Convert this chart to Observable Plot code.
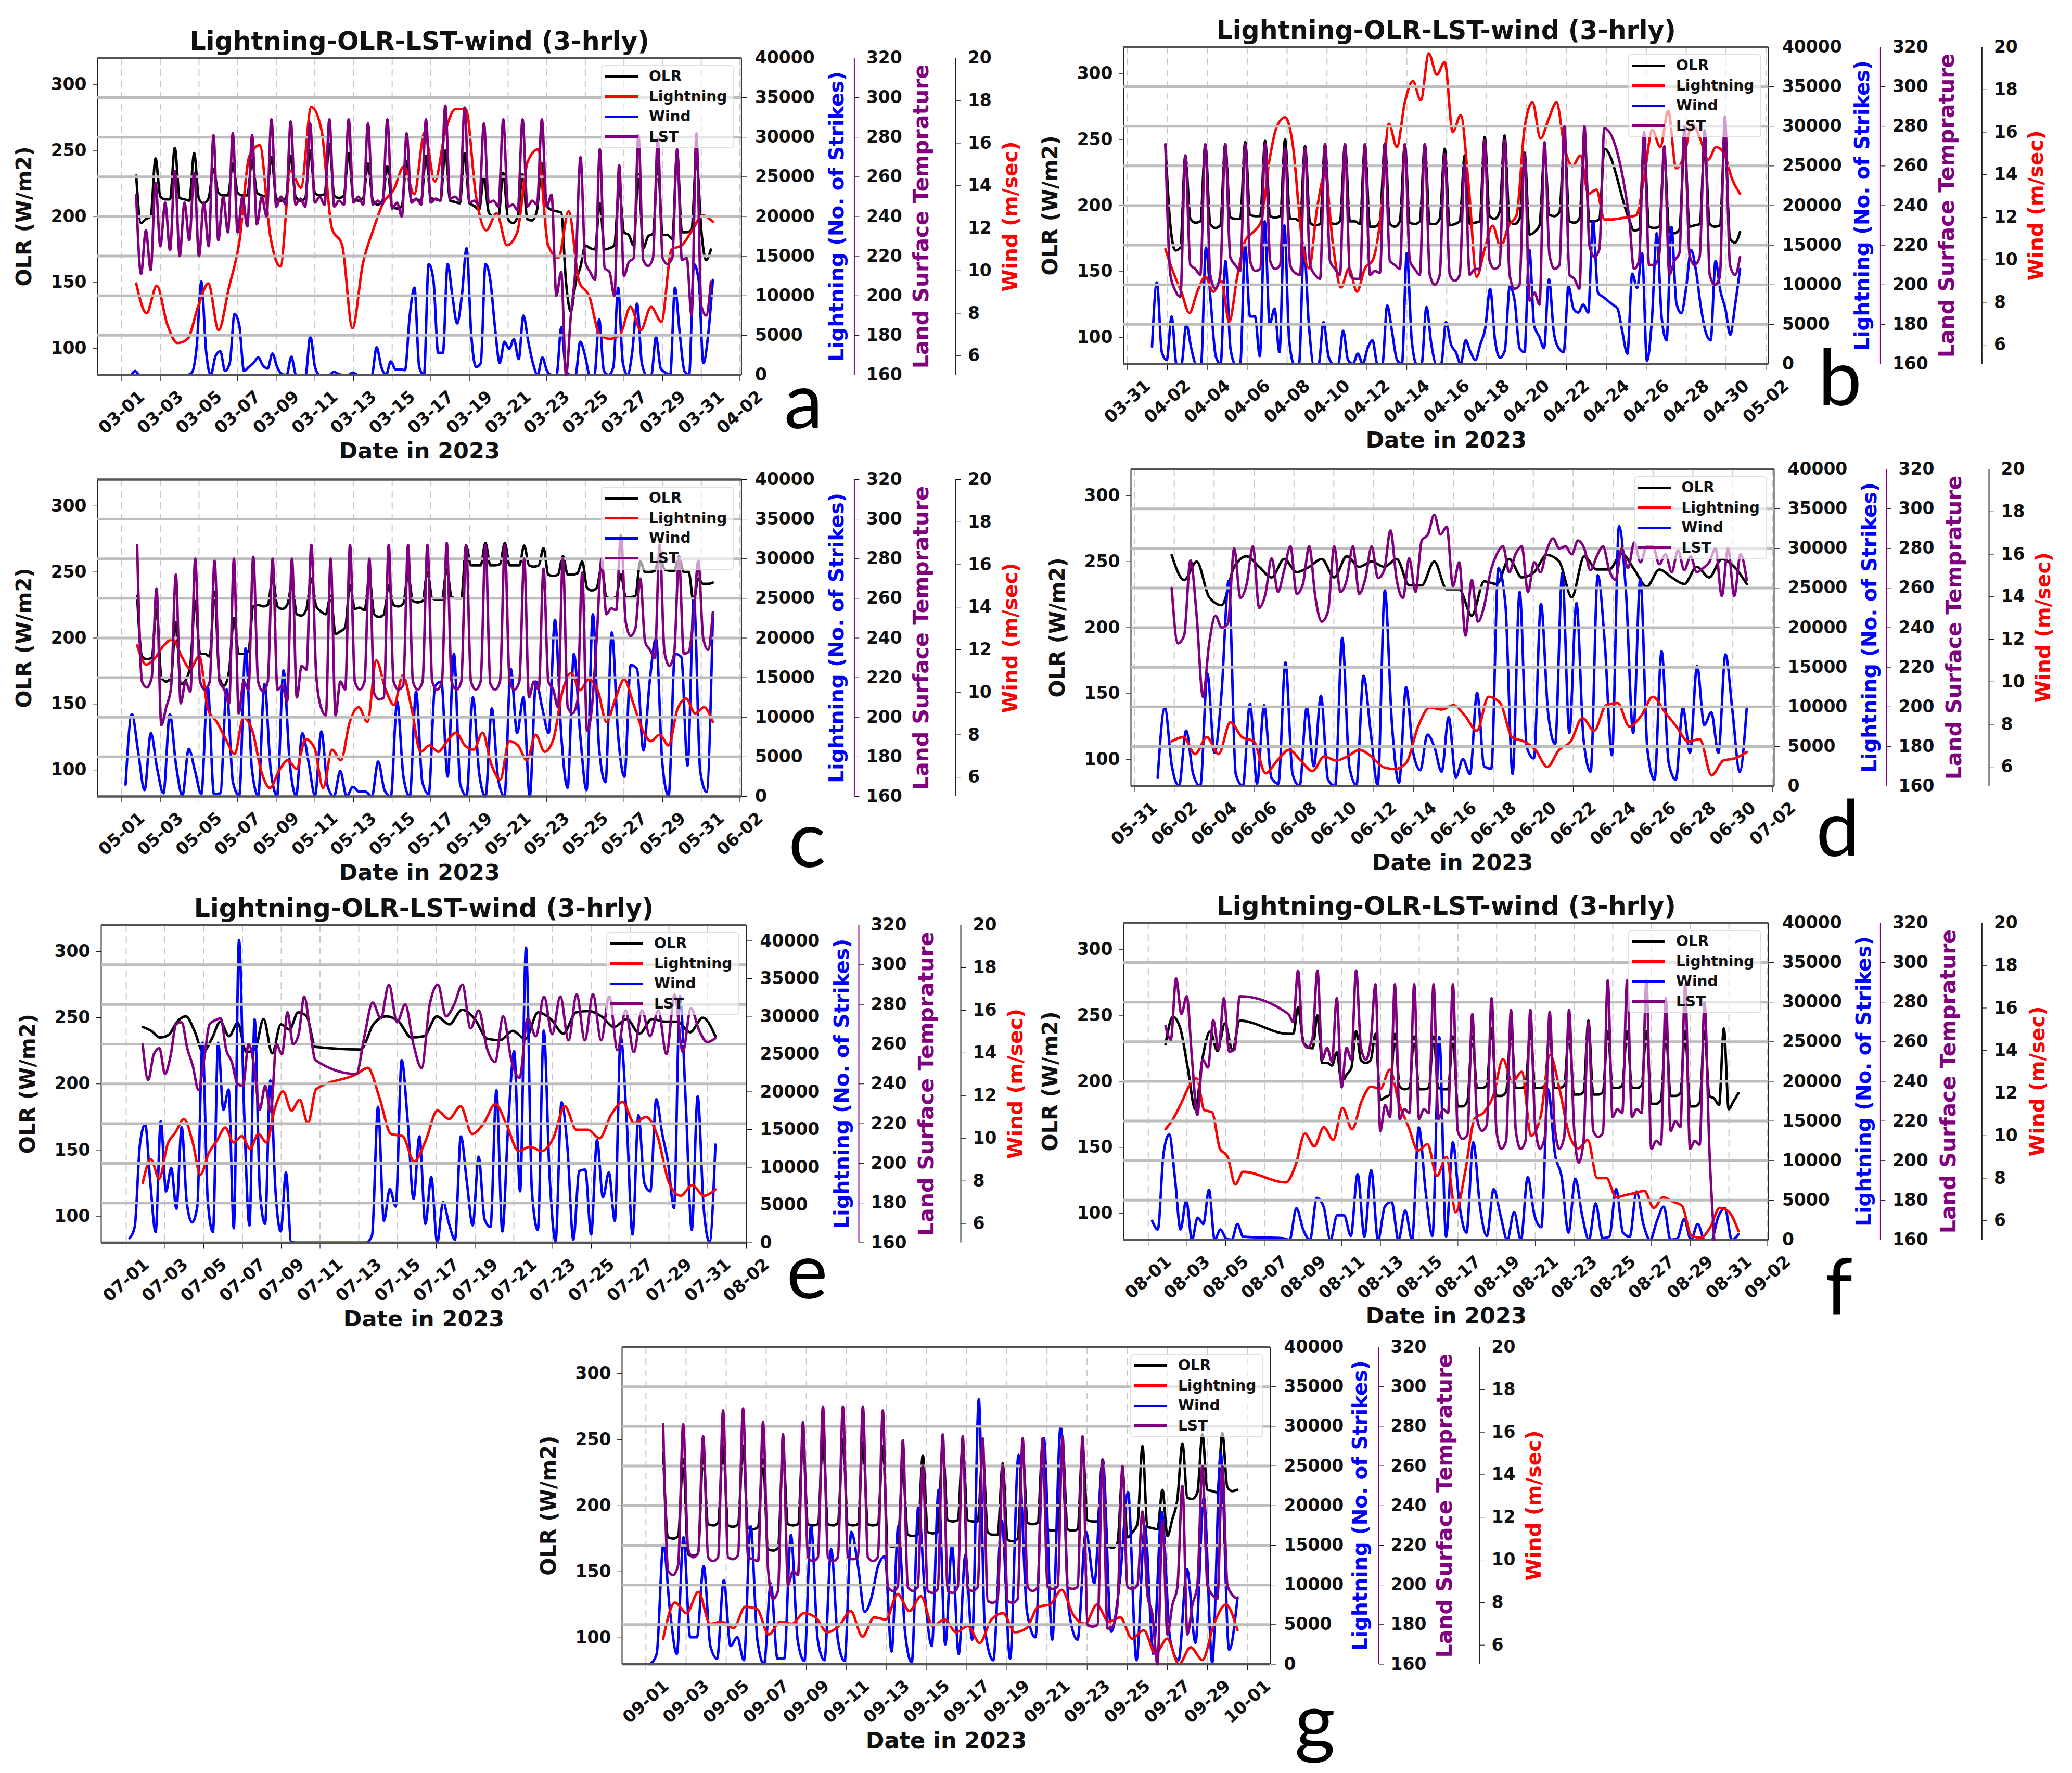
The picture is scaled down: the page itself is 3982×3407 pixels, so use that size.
<!DOCTYPE html>
<html><head><meta charset="utf-8">
<script src="https://cdn.jsdelivr.net/npm/d3@7"></script>
<script src="https://cdn.jsdelivr.net/npm/@observablehq/plot@0.6"></script>
<style>
html,body{margin:0;padding:0;background:#fff}
#page{position:relative;width:3982px;height:3407px;background:#fff;overflow:hidden;font-family:"DejaVu Sans",sans-serif}
#page svg{position:absolute;display:block}
.lg{position:absolute;background:rgba(255,255,255,.62);border:2px solid rgba(200,200,200,.55);border-radius:7px;box-sizing:border-box}
.lg i{position:absolute;height:5px;width:63px;left:6px}
.lg b{position:absolute;left:90px;font-size:28px;line-height:30px;color:#111}
.let{position:absolute;font-family:Lato,sans-serif;font-size:150px;line-height:150px;transform:translate(-50%,-50%);color:#000}
</style></head><body><div id="page"></div>
<script>
const olrTicks=[100,150,200,250,300];
const lightningTicks=[0,5000,10000,15000,20000,25000,30000,35000,40000];
const lstTicks=[160,180,200,220,240,260,280,300,320];
const windTicks=[6,8,10,12,14,16,18,20];
const title="Lightning-OLR-LST-wind (3-hrly)";
const legendNames=["OLR","Lightning","Wind","LST"];
const legendColors=["#000","#f00","#00f","#800080"];

const ticksA=["03-01","03-03","03-05","03-07","03-09","03-11","03-13","03-15","03-17","03-19","03-21","03-23","03-25","03-27","03-29","03-31","04-02"];
const ticksB=["03-31","04-02","04-04","04-06","04-08","04-10","04-12","04-14","04-16","04-18","04-20","04-22","04-24","04-26","04-28","04-30","05-02"];
const ticksC=["05-01","05-03","05-05","05-07","05-09","05-11","05-13","05-15","05-17","05-19","05-21","05-23","05-25","05-27","05-29","05-31","06-02"];
const ticksD=["05-31","06-02","06-04","06-06","06-08","06-10","06-12","06-14","06-16","06-18","06-20","06-22","06-24","06-26","06-28","06-30","07-02"];
const ticksE=["07-01","07-03","07-05","07-07","07-09","07-11","07-13","07-15","07-17","07-19","07-21","07-23","07-25","07-27","07-29","07-31","08-02"];
const ticksF=["08-01","08-03","08-05","08-07","08-09","08-11","08-13","08-15","08-17","08-19","08-21","08-23","08-25","08-27","08-29","08-31","09-02"];
const ticksG=["09-01","09-03","09-05","09-07","09-09","09-11","09-13","09-15","09-17","09-19","09-21","09-23","09-25","09-27","09-29","10-01"];

/* panel a */
const olrA=[231,195,198,200,244,215,213,213,252,214,213,212,248,213,210,214,236,218,216,216,240,218,216,216,243,218,216,215,245,214,212,214,246,215,212,214,250,218,216,217,255,216,214,216,248,213,212,214,240,212,209,212,238,207,206,208,242,212,213,212,246,214,213,212,250,212,211,210,248,210,208,205,230,203,200,200,233,198,195,200,232,198,197,205,240,208,205,204,203,150,128,150,162,178,176,175,210,175,176,178,222,188,186,178,232,176,185,187,240,186,186,183,248,188,188,190,245,190,167,175];
const lstA=[251,211,233,213,257,225,247,223,263,220,247,228,262,220,247,225,281,228,250,232,282,232,250,235,281,236,250,240,289,245,250,246,288,246,249,245,287,247,250,246,289,245,248,246,289,247,250,246,287,246,248,246,289,244,247,240,282,247,249,246,289,247,249,248,296,249,250,248,295,247,248,246,287,247,248,245,289,245,246,243,289,245,248,246,289,245,251,200,212,160,190,215,270,217,212,208,274,214,212,200,266,210,217,219,281,218,215,219,279,219,216,219,274,218,219,190,282,195,190,207];
const blueA=[0,0,500,0,0,0,0,0,0,0,0,0,0,0,300,3500,11800,3000,0,2400,3000,500,1500,7700,6300,500,1000,1500,2200,1200,800,2700,1000,100,0,2300,0,0,0,4900,1000,0,0,0,400,100,0,0,300,0,0,0,0,3500,1000,0,1700,700,700,600,7500,11000,1000,0,14000,12000,2800,2800,14000,10000,6500,10000,16000,5000,1000,1500,14000,12000,6000,1500,4200,3300,4500,2000,7500,4300,1500,0,2200,500,0,0,6000,500,0,0,4200,2500,0,0,7000,500,0,1000,11000,1500,0,3000,9000,1500,0,0,4800,800,300,0,11000,5300,500,0,14000,12000,1500,5000,12000];
const redA=[9.4,8,9.3,7.5,6.6,6.8,8.3,9.4,7.2,9.2,11.3,15.4,15.9,11.7,10.2,14.7,13.9,17.7,16.6,12,11.2,7.3,10.3,11.9,13.2,13.8,14.9,13.6,16.5,14.2,16.5,17.6,17.6,13.5,11.9,12.7,11.2,11.8,15.1,15.7,11.2,10.6,12.8,9.5,8.8,7,6.8,7,8.3,7.2,8.3,7.6,11,11.2,11.9,12.6,12.3];

/* panel b */
const olrB1=[246,185,166,168,238,190,187,188,246,186,183,185,246,191,190,190,248,193,192,192,249,192,191,192,250,190,190,188,245,187,185,186,246,187,186,188,246,188,188,186,246,184,184,188,247,186,184,188,246,187,186,188,246,186,186,190,243,185,186,188,238,186,187,188,252,192,190,195,253,188,186,190,240,178,180,185,240,193,192,195,250,188,187,190,250,188,188,190,243];
const olrB2=[190,181,182,245,184,183,184,238,180,179,182,246,184,185,186,245,186,184,185,250,175,172,180];
const lstB1=[271,205,197,194,265,210,208,205,271,205,198,205,271,214,210,207,271,212,207,208,271,212,208,210,269,210,206,205,269,210,205,203,271,212,208,205,271,205,203,203,271,205,207,206,271,212,210,208,271,212,208,205,271,205,200,205,266,205,202,205,261,205,208,208,273,212,208,210,273,205,198,200,266,192,196,190,272,215,208,210,280,205,203,198,280,220,214,218,279];
const lstB2=[235,208,212,277,210,210,215,270,205,212,216,280,215,210,214,278,205,200,204,285,210,205,214];
const blueB=[2200,10300,1500,500,6000,0,0,5000,2000,0,0,14700,7700,1000,0,13000,2000,0,0,15000,6000,6000,1000,18000,5000,7000,1500,17500,3000,0,0,15000,5000,0,0,5300,1000,0,0,4200,500,0,1300,0,2000,3000,0,0,7400,4000,500,0,14000,3000,0,0,7200,2500,0,0,5300,2500,1500,0,3000,1500,500,2500,4500,9500,3000,800,1700,9800,8000,2000,1500,14400,4800,3500,2000,10700,4000,2000,1500,9800,7000,6500,7500,6500,18000,9000,8500,8000,7500,7000,4000,1300,11400,9600,14000,400,5500,16500,5900,3000,17300,7700,6400,9600,14400,11800,7200,4000,3000,13000,9200,7000,3700,7500,12000];
const redB=[10.5,9.4,8.5,7.5,8.5,9.2,8.5,9,7.1,9.2,10.9,11.3,11.8,14.6,16.3,16.7,15.3,11.3,9.6,12.4,14,10.7,8.7,9.6,8.5,9.6,10,12.1,16.4,15.3,17.4,18.4,17.5,19.7,18.7,19.3,16,16.8,13.5,9.2,10.5,11.6,10.6,11.6,12.1,16.2,17.4,15.7,16.6,17.4,15.3,14.4,14.9,13.1,13.3,11.9,11.9,11.95,12,12.1,13.9,16.1,15.3,17,14.3,14.9,16.4,15.7,14.7,15.3,15,13.8,13.1];

/* panel c */
const olrC=[232,186,184,185,222,170,167,170,212,165,168,180,228,188,188,186,235,170,164,175,215,188,188,190,224,225,224,225,245,224,222,225,240,218,217,222,245,224,220,218,232,203,205,208,240,222,223,221,245,218,216,218,240,225,224,226,248,228,227,228,250,230,229,229,252,231,230,230,270,255,255,255,272,255,255,256,272,255,255,255,270,255,254,255,268,248,247,248,262,248,248,249,258,238,236,238,254,231,230,231,248,231,231,232,258,250,250,251,262,252,251,251,262,250,250,228,245,241,241,242];
const lstC=[287,218,215,220,265,196,205,215,272,207,218,213,280,218,214,218,279,218,214,207,280,202,218,214,281,218,213,218,280,214,216,208,280,210,226,224,287,222,205,201,280,201,218,214,287,218,214,218,280,212,209,210,287,218,214,216,287,218,214,218,287,218,214,218,288,218,214,218,287,218,214,218,287,217,214,218,287,218,214,218,280,210,218,214,275,218,214,205,280,205,202,208,273,193,205,240,280,252,255,254,292,248,241,245,270,238,234,230,287,233,226,232,280,232,233,250,279,240,234,253];
const blueC=[1500,10400,5600,800,8000,3500,400,10400,3900,100,6000,3200,300,13900,300,400,13500,1800,100,18700,3500,100,14200,3200,100,15900,4200,100,8000,4200,100,8200,1300,0,3200,0,1200,600,600,0,4400,800,0,12000,2500,0,13200,1800,300,13900,14500,2500,18000,1500,100,12500,2900,0,11100,2200,0,16100,8000,12500,0,14500,11100,8000,22300,7700,1100,18000,7700,800,23000,6000,1800,20700,7700,2500,16600,16100,5800,14500,20000,4200,100,18000,17600,3900,25000,3200,600,22600];
const redC=[12.2,11.3,11.6,12.2,12.5,11.7,11.1,11.7,9.2,8.6,7.8,7.1,8.8,8.2,6.3,5.5,6.3,6.8,6.4,7.8,7.4,5.5,7.3,6.8,8.6,9.3,8.6,11.5,10.2,9.4,10.8,9.2,7.2,7.5,7.2,7.7,8.1,7.5,7.3,8.1,6.6,5.9,7.7,7.5,6.8,8,7.2,7.8,10,10.9,10.1,10.6,10.1,8.6,9.7,10.6,9.5,8.3,7.7,8,7.5,9.2,9.7,9,9.3,8.6];

/* panel d */
const olrD=[255,236,250,223,217,246,254,246,238,252,242,246,252,238,254,246,250,246,252,232,232,250,229,229,209,235,233,252,238,242,255,250,223,254,244,244,256,244,231,244,238,233,246,238,252,246,233];
const lstD=[260,232,236,274,246,205,232,246,240,242,280,255,262,281,250,257,275,258,269,281,257,262,281,255,243,248,281,258,264,281,257,265,281,265,269,289,264,255,275,258,284,287,297,287,291,261,273,236,264,243,251,268,277,281,268,277,281,258,273,268,279,285,280,281,277,284,280,269,276,281,269,264,280,270,283,273,281,281,272,277,268,279,269,276,268,270,273,280,256,280,256,277,264];
const blueD=[1100,9900,2500,0,7000,1500,0,14200,4200,11800,25900,1500,0,10400,300,10200,1100,300,15600,1500,0,9900,2500,11400,800,0,18700,2500,100,13900,6900,100,24700,7900,400,12500,4200,2000,6500,4900,1800,8700,1100,3400,1500,11800,2500,2200,27500,22800,1500,24500,4900,3500,23000,9300,5300,26900,6700,23100,5900,1800,26600,18000,3900,32800,24200,6700,26200,4600,800,17000,2900,800,9900,4200,15200,7700,9300,4200,16600,9300,1800,9900];
const redD=[7.2,7.4,6.6,7.4,6.6,8.1,7.4,7.2,5.7,6.3,6.8,6.3,5.8,6.5,6.3,6.5,6.8,6.5,6,5.9,6.2,7.9,8.8,8.7,8.9,8.4,7.7,9.3,9,7.4,7.2,6.8,6,6.8,7.2,8.3,7.7,8.9,9,7.9,8.4,9.3,8.6,7.9,7.2,7.3,5.6,6.3,6.4,6.7];

/* panel e */
const olrE1=[243,240,235,237,247,251,240,224,234,247,236,246,224,226,249,223,245,241,254,251,228];
const olrE2=[226,245,251,247,235,236,251,245,256,249,234,233,240,234,254,249,238,254,255,251,243,249,238,249,247,247,239,250,236];
const lstE1=[260,242,255,258,245,254,270,271,258,249,237,252,270,272,273,257,251,240,239,260,249,227,239,226,260,255,276,260,265,284,268,252];
const lstE2=[245,264,281,273,290,271,280,260,248,280,290,274,280,290,268,277,258,251,274,252,243,273,264,284,265,284,262,285,262,285,262,284,257,277,256,277,264,277,255,285,256,278,267,261,263];
const blueE1=[600,2100,13000,15700,7900,1400,16100,6800,9900,4500,15300,5200,2700,4800,26500,5600,1400,26500,17600,20300,1900,40100,16900,2300,29600,6800,2500,21500,6800,1500,9300,100,0];
const blueE2=[0,1000,18000,2900,7100,4800,24200,16300,5800,14100,2500,8700,0,5400,2500,400,14100,8100,2300,11400,3100,2100,20200,1500,15700,25400,6800,39100,6800,1700,28100,8700,200,18600,12600,400,9500,9700,1100,13600,6000,9300,2900,27300,16400,1100,16900,7900,6800,19000,14500,10600,4600,32700,18400,1700,19400,4800,100,13000];
const redE1=[7.9,9,8.1,9.7,10.3,10.9,9.9,8.3,9.3,9.9,10.5,9.8,10.1,9.5,10.2,9.8,11.4,12.2,11.3,11.8,10.7,12.3];
const redE2=[13,13.3,11.9,10.2,10.1,8.9,9.9,11.3,10.9,11.5,10.2,10.7,11.6,10.6,9.4,9.6,9.4,10,11.5,10.4,10.4,10,11.1,11.7,10.7,11,10.1,7.9,7.3,7.8,7.3,7.6];

/* panel f */
const olrF1=[228,249,240,210,179,218,238,223,244,224,246];
const olrF2=[236,236,256,232,226,225,250,214,214,212,222,199,205,210,238,216,214,216,236,186,188,190,236,196,194,195,234,194,194,195,234,195,194,194,234,181,181,185,234,195,195,197,240,189,189,192,238,195,195,197,238,195,195,197,238,195,195,197,238,190,190,192,246,190,190,192,238,195,195,197,238,195,195,197,238,183,183,186,238,189,189,191,238,181,181,184,238,189,187,182,240,179,185,191];
const lstF1=[268,261,292,274,283,251,223,251,247,271,256,282,255,256,283];
const lstF2=[274,270,296,260,257,262,296,251,257,250,282,237,257,251,296,257,251,260,289,215,228,222,289,221,226,224,289,221,226,224,289,221,226,224,289,215,211,213,274,221,215,218,282,215,206,210,276,215,206,210,276,218,206,212,275,218,206,212,276,218,199,210,270,215,212,214,291,222,226,224,291,222,226,224,291,206,210,208,282,215,220,217,289,206,210,208,280,206,160];
const blueF1=[2400,1300,10900,13300,7900,1300,5000,0,2800,2000,6300,0,1300,200,0,2000,400];
const blueF2=[200,0,4000,1300,0,5300,4200,0,3100,3100,500,8300,400,8800,0,4200,4800,0,3700,0,14200,6100,500,25600,400,12300,4200,900,12300,4100,500,6400,3100,0,3500,0,7900,3100,1600,19000,10900,7900,900,7700,3100,0,4600,200,400,6400,900,400,6100,2000,0,2400,4200,0,200,2600,0,2000,0,0,2900,4000,0,700];
const redF1=[10.3,10.8,11.5,12.3,12.7,11.2,11.1,9.4,9,7.7,8.3];
const redF2=[7.8,8.6,10.1,9.5,10.4,9.8,11.3,10.3,11.6,12.3,12.2,13.1,11.5,10.4,9.3,9.6,8.1,9,6.4,8.3,10.8,11.1,11.9,13.6,12.5,13,10,10.9,13.8,12.2,10.1,9.4,9.8,8,8,7.1,7.2,7.3,7.4,6.6,7.1,6.9,6.7,5.3,5.2,5.7,6.6,6.4,5.5];

/* panel g */
const olrG=[240,176,175,177,235,163,162,164,238,186,185,187,245,185,184,186,245,183,182,184,235,167,166,168,240,186,185,186,248,186,185,186,250,186,185,187,250,186,185,186,248,186,185,186,245,170,169,171,228,178,177,178,238,180,179,180,245,189,188,189,245,189,188,188,240,180,178,178,232,174,173,175,240,187,186,187,245,182,181,182,245,182,181,182,245,189,188,188,235,170,168,172,225,176,180,186,245,184,183,182,212,177,190,205,247,206,205,210,254,212,211,210,255,214,211,212];
const lstG=[281,207,205,210,281,218,214,216,275,214,212,214,288,214,213,215,289,214,213,212,282,208,193,197,276,200,207,205,282,214,212,214,290,214,212,214,290,214,213,214,290,214,212,214,288,199,197,199,273,199,197,199,260,197,196,198,276,197,196,199,275,198,197,199,274,192,191,193,260,192,191,193,274,199,197,199,274,199,198,199,275,199,198,199,275,180,179,180,263,178,179,190,260,199,198,200,237,195,185,160,232,175,190,199,250,175,190,200,260,200,195,193,260,200,195,193];
const blueG1=[0,1300,15100,6600,1300,16000,3400,3400,12400,2300,700,10600,2300,3400,500,17400,3100,0,10200,700,700,16300,3100,400,17400,3100,500,14500,3100,400,16700,12400,6600,8400,12400,13600,1600,17400,4100,200,20000,8400,2300,22000,2500,14900,1300,13800,3100,33400];
const blueG2=[4500,500,18100,700,26400,6600,3400,28500,3100,30000,6600,3100,16700,10200,25800,4100,10200,21700,500,17400,1300,19200,3100,500,12000,2700,21000,200,26700,1800,8400];
const redG=[6.3,8,7.5,8.5,7,7.1,6.8,7.8,7.7,6.5,7.1,7,7.5,7.3,6.6,6.9,7.6,6.4,7.3,7.2,8.4,7.6,8.3,6.9,7.2,6.6,6.9,6.1,7.2,7.5,6.6,6.8,7.8,7.9,8.6,7.4,7,7.9,7.1,7.3,6.3,6.7,5.6,6.3,5.1,5.9,5.3,7,7.9,6.7];

const parseTick=s=>d3.utcParse("%Y-%m-%d")("2023-"+s);
const fmtTick=d3.utcFormat("%m-%d");
const day=(m,d)=>new Date(Date.UTC(2023,m-1,1)+(d-1)*864e5);
const spread=(vals,m,a,b)=>vals.map((v,i)=>({t:day(m,a+i*(b-a)/(vals.length-1)),v}));

const panels=[
 {l:186.6,r:1424,t:111,b:720,m:3,dom:[-0.25,33.08],ticks:ticksA,titled:true,lstDx:217,windDx:412,labelShift:0,legTop:14,letter:["a",1544,765],
  olr:spread(olrA,3,1.75,31.5),lst:spread(lstA,3,1.75,31.5),blue:spread(blueA,3,1.2,31.6),red:spread(redA,3,1.75,31.6)},
 {l:2158.6,r:3398,t:90,b:699,m:4,dom:[-0.19,32.13],ticks:ticksB,titled:true,lstDx:215,windDx:410,labelShift:-3,legTop:14,letter:["b",3536,721],
  olr:[...spread(olrB1,4,1.9,23.9),...spread(olrB2,4,25.13,30.7)],lst:[...spread(lstB1,4,1.9,23.9),...spread(lstB2,4,25.13,30.7)],blue:spread(blueB,4,1.23,30.7),red:spread(redB,4,1.9,30.7)},
 {l:186.6,r:1424,t:921,b:1530,m:5,dom:[-0.25,33.08],ticks:ticksC,titled:false,lstDx:217,windDx:412,labelShift:0,legTop:14,letter:["c",1551,1608],
  olr:spread(olrC,5,1.8,31.6),lst:spread(lstC,5,1.8,31.6),blue:spread(blueC,5,1.2,31.6),red:spread(redC,5,1.8,31.6)},
 {l:2172.6,r:3408.6,t:901,b:1510,m:6,dom:[-0.17,32.07],ticks:ticksD,titled:false,lstDx:216,windDx:413,labelShift:0,legTop:14,letter:["d",3532,1587],
  olr:spread(olrD,6,1.87,30.7),lst:spread(lstD,6,1.87,30.7),blue:spread(blueD,6,1.17,30.7),red:spread(redD,6,1.87,30.7)},
 {l:194,r:1434,t:1777,b:2387.5,m:7,dom:[-0.29,33],ticks:ticksE,titled:true,lstDx:216,windDx:412,labelShift:0,legTop:14,lightMax:42100,letter:["e",1551,2437],
  olr:[...spread(olrE1,7,1.85,10.76),...spread(olrE2,7,13.1,31.4)],lst:[...spread(lstE1,7,1.85,10.76),...spread(lstE2,7,12.87,31.4)],blue:[...spread(blueE1,7,1.17,9.78),...spread(blueE2,7,13.38,31.4)],red:[...spread(redE1,7,1.85,10.8),...spread(redE2,7,12.87,31.4)]},
 {l:2158.6,r:3398,t:1773,b:2382,m:8,dom:[-0.27,33.05],ticks:ticksF,titled:true,lstDx:215,windDx:410,labelShift:0,legTop:14,letter:["f",3534,2468],
  olr:[...spread(olrF1,8,1.89,5.73),...spread(olrF2,8,8.24,31.49)],lst:[...spread(lstF1,8,1.89,5.73),...spread(lstF2,8,8.24,30.24)],blue:[...spread(blueF1,8,1.2,5.9),...spread(blueF2,8,7.95,31.5)],red:[...spread(redF1,8,1.89,5.9),...spread(redF2,8,8.12,31.5)]},
 {l:1195,r:2441,t:2588,b:3197.5,m:9,dom:[-0.19,32.14],ticks:ticksG,titled:false,lstDx:208,windDx:402,labelShift:-11,legTop:14,letter:["g",2527,3303],
  olr:spread(olrG,9,1.86,30.49),lst:spread(lstG,9,1.86,30.49),blue:[...spread(blueG1,9,1.2,17.6),...spread(blueG2,9,17.9,30.5)],red:spread(redG,9,1.86,30.5)}
];

const page=document.getElementById("page");
const mL=180,mT=90,mB=210,mR=600;
const tickFont={fontSize:33,fontWeight:"bold",fill:"#111"};
const sideLabel=(txt,dx,color,size)=>Plot.text([txt],{frameAnchor:"right",dx,rotate:-90,text:d=>d,fill:color,fontSize:size,fontWeight:"bold",textAnchor:"middle",lineAnchor:"middle"});

panels.forEach(p=>{
  const W=p.r-p.l+mL+mR,H=p.b-p.t+mT+mB;
  const xDom=[day(p.m,p.dom[0]),day(p.m,p.dom[1])];
  const dates=p.ticks.map(parseTick);
  const base={width:W,height:H,marginLeft:mL,marginRight:mR,marginTop:mT,marginBottom:mB,
    style:{background:"transparent",maxWidth:"none",fontFamily:"DejaVu Sans",position:"absolute",left:(p.l-mL)+"px",top:(p.t-mT)+"px",overflow:"visible"}};
  const line=(data,color,w=4.8)=>Plot.line(data,{x:"t",y:"v",stroke:color,strokeWidth:w,curve:"monotone-x",strokeLinejoin:"round"});

  const olrPlot=Plot.plot({...base,x:{type:"utc",domain:xDom},y:{domain:[80,320],label:null},marks:[
    Plot.ruleX(dates,{stroke:"#c8c8c8",strokeWidth:2,strokeDasharray:"13,9"}),
    Plot.ruleX(xDom,{stroke:"#222",strokeWidth:2}),
    Plot.axisY({ticks:olrTicks,tickFormat:d=>String(d),tickSize:9,tickPadding:12,label:null,...tickFont}),
    Plot.axisX({ticks:dates,tickFormat:fmtTick,tickSize:12,tickPadding:60,tickRotate:-42,textAnchor:"middle",lineAnchor:"middle",label:null,...tickFont}),
    Plot.text(["Date in 2023"],{frameAnchor:"bottom",dy:161,text:d=>d,fontSize:43,fontWeight:"bold",fill:"#111"}),
    p.titled?Plot.text([title],{frameAnchor:"top",dy:-50,text:d=>d,fontSize:49,fontWeight:"bold",fill:"#111"}):null,
    Plot.text(["OLR (W/m2)"],{frameAnchor:"left",dx:-140,rotate:-90,text:d=>d,fontSize:40,fontWeight:"bold",fill:"#111",textAnchor:"middle",lineAnchor:"middle"}),
    line(p.olr,"#000")
  ]});

  const lightPlot=Plot.plot({...base,x:{type:"utc",domain:xDom,axis:null},y:{domain:[0,p.lightMax||40000],label:null},marks:[
    Plot.axisY({anchor:"right",ticks:lightningTicks,tickFormat:d=>String(d),tickSize:10,tickPadding:16,label:null,...tickFont}),
    sideLabel("Lightning (No. of Strikes)",184+p.labelShift,"#00f",39),
    line(p.blue,"#00f")
  ]});

  const windPlot=Plot.plot({...base,x:{type:"utc",domain:xDom,axis:null},y:{domain:[5.1,20],label:null},marks:[
    Plot.ruleX([xDom[1]],{dx:p.windDx,stroke:"#222",strokeWidth:2}),
    Plot.axisY({anchor:"right",dx:p.windDx,ticks:windTicks,tickFormat:d=>String(d),tickSize:9,tickPadding:14,label:null,...tickFont}),
    sideLabel("Wind (m/sec)",518+p.labelShift,"#f00",39),
    line(p.red,"#f00")
  ]});

  const lstPlot=Plot.plot({...base,x:{type:"utc",domain:xDom,axis:null},y:{domain:[160,320],label:null},marks:[
    Plot.ruleY(lstTicks.slice(1,-1),{stroke:"#bdbdbd",strokeWidth:5}),
    Plot.ruleY([160,320],{stroke:"#555",strokeWidth:4.5}),
    Plot.ruleX([xDom[1]],{dx:p.lstDx,stroke:"#800080",strokeWidth:2}),
    Plot.axisY({anchor:"right",dx:p.lstDx,ticks:lstTicks,tickFormat:d=>String(d),tickSize:9,tickPadding:14,label:null,...tickFont}),
    sideLabel("Land Surface Temprature",346+p.labelShift,"#800080",41),
    line(p.lst,"#800080")
  ]});

  [olrPlot,lightPlot,windPlot,lstPlot].forEach(s=>page.appendChild(s));

  const lg=document.createElement("div");
  lg.className="lg";
  lg.style.cssText=`left:${p.r-269}px;top:${p.t+p.legTop}px;width:256px;height:160px`;
  legendNames.forEach((n,i)=>{
    const y=20+i*38.5;
    lg.insertAdjacentHTML("beforeend",`<i style="top:${y-2.5}px;background:${legendColors[i]}"></i><b style="top:${y-15}px">${n}</b>`);
  });
  page.appendChild(lg);

  const L=document.createElement("div");
  L.className="let";L.textContent=p.letter[0];
  L.style.left=p.letter[1]+"px";L.style.top=p.letter[2]+"px";
  page.appendChild(L);
});
</script></body></html>
